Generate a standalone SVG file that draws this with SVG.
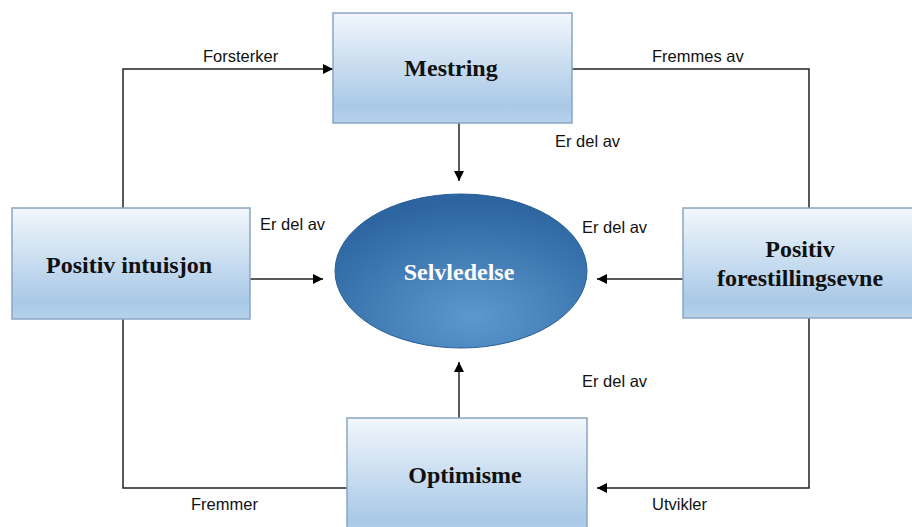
<svg xmlns="http://www.w3.org/2000/svg" width="912" height="527" viewBox="0 0 912 527">
<defs>
<linearGradient id="boxg" x1="0" y1="0" x2="0" y2="1">
<stop offset="0" stop-color="#f2f7fc"/>
<stop offset="0.85" stop-color="#a9c9e7"/>
<stop offset="1" stop-color="#b7d2ec"/>
</linearGradient>
<radialGradient id="ellg" cx="0.55" cy="0.8" r="0.75">
<stop offset="0" stop-color="#5c98cf"/>
<stop offset="1" stop-color="#2c65a0"/>
</radialGradient>
<marker id="arr" viewBox="0 0 10 10" refX="10" refY="5" markerWidth="10" markerHeight="10" markerUnits="userSpaceOnUse" orient="auto">
<path d="M0,0 L10,5 L0,10 z" fill="#000"/>
</marker>
<style>
.box{fill:url(#boxg);stroke:#8aa5c2;stroke-width:1.5}
.bt{font-family:"Liberation Serif","Times New Roman",serif;font-weight:bold;font-size:24px;fill:#111;text-anchor:middle}
.lbl{font-family:"Liberation Sans",Arial,sans-serif;font-size:16.5px;fill:#111}
.ln{fill:none;stroke:#222;stroke-width:1.5}
.ar{marker-end:url(#arr)}
</style>
</defs>
<rect width="912" height="527" fill="#fff"/>
<g id="connectors">
<polyline class="ln ar" points="123,208 123,69 333,69"/>
<polyline class="ln" points="572,69 809,69 809,208"/>
<line class="ln ar" x1="459" y1="123" x2="459" y2="181"/>
<line class="ln ar" x1="250" y1="279" x2="323" y2="279"/>
<line class="ln ar" x1="683" y1="279" x2="597" y2="279"/>
<line class="ln ar" x1="459" y1="418" x2="459" y2="362"/>
<polyline class="ln" points="123,319 123,488 347,488"/>
<polyline class="ln ar" points="809,318 809,488 597,488"/>
<text class="lbl" x="203" y="62">Forsterker</text>
<text class="lbl" x="652" y="62">Fremmes av</text>
<text class="lbl" x="555" y="147">Er del av</text>
<text class="lbl" x="260" y="230">Er del av</text>
<text class="lbl" x="582" y="233">Er del av</text>
<text class="lbl" x="582" y="387">Er del av</text>
<text class="lbl" x="191" y="510">Fremmer</text>
<text class="lbl" x="652" y="510">Utvikler</text>
</g>
<g id="mestring">
<rect class="box" x="333" y="13" width="239" height="110"/>
<text class="bt" x="451" y="76">Mestring</text>
</g>
<g id="positiv-intuisjon">
<rect class="box" x="12" y="208" width="238" height="111"/>
<text class="bt" x="129" y="273">Positiv intuisjon</text>
</g>
<g id="selvledelse">
<ellipse cx="461" cy="271" rx="126" ry="77" fill="url(#ellg)" stroke="#2a5f96" stroke-width="1"/>
<text class="bt" x="459" y="280" style="fill:#fff">Selvledelse</text>
</g>
<g id="positiv-forestillingsevne">
<rect class="box" x="683" y="208" width="230" height="110"/>
<text class="bt" x="800" y="257">Positiv</text>
<text class="bt" x="800" y="286">forestillingsevne</text>
</g>
<g id="optimisme">
<rect class="box" x="347" y="418" width="240" height="120"/>
<text class="bt" x="465" y="483">Optimisme</text>
</g>
</svg>
